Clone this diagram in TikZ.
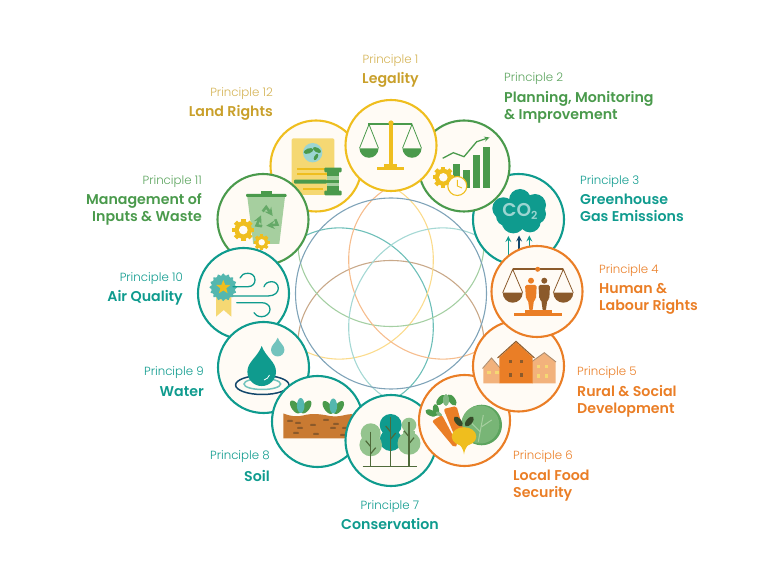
\documentclass[tikz,border=0pt]{standalone}
\usepackage{xcolor}
\usepackage{fontspec}
\usepackage{tikz}
\usetikzlibrary{shapes.geometric}
\newfontfamily\namefont{Poppins Light}
\newfontfamily\titlefont{Poppins SemiBold}
\definecolor{cream}{HTML}{FFFBF5}
\definecolor{pgold}{HTML}{EFBE1E}
\definecolor{pgoldtext}{HTML}{C9A02B}
\definecolor{pgoldpale}{HTML}{F5D873}
\definecolor{pgreen}{HTML}{4A9A4C}
\definecolor{pgreenpale}{HTML}{A6CF9F}
\definecolor{pteal}{HTML}{0F9B8E}
\definecolor{ptealpale}{HTML}{72C3BD}
\definecolor{porange}{HTML}{EA7E26}
\definecolor{porangepale}{HTML}{F2B27C}
\definecolor{pbrown}{HTML}{8B5A2B}
\definecolor{pnavy}{HTML}{12476B}
\definecolor{psoil}{HTML}{C97A32}
\definecolor{pbark}{HTML}{4F6A3A}
\definecolor{phub}{HTML}{7FA3B8}
% small repeating pictures: x, y, size
\newcommand\gearicon[3]{%
  \foreach \a in {0,45,...,135}{\fill[pgold, shift={(#1,#2)}, rotate=\a] (-0.25*#3,-1.25*#3) rectangle (0.25*#3,1.25*#3);}
  \fill[pgold] (#1,#2) circle [radius=#3];
  \fill[cream] (#1,#2) circle [radius=0.5*#3];}
\newcommand\panicon[6]{%
  \draw[#5, line width=0.8pt] (#1-#4,#3) -- (#1,#2) -- (#1+#4,#3);
  \fill[#6] (#1-#4,#3) arc [start angle=180, end angle=0, radius=#4] -- cycle;}
\newcommand\dropicon[4]{%
  \fill[#4] (#1,#2) .. controls (#1-0.3*#3,#2+0.8*#3) and (#1-#3,#2+1.1*#3) .. (#1-#3,#2+1.8*#3)
    arc [start angle=180, end angle=0, radius=#3]
    .. controls (#1+#3,#2+1.1*#3) and (#1+0.3*#3,#2+0.8*#3) .. (#1,#2) -- cycle;}
\newcommand\leaficon[5]{%
  \fill[#5, rotate around={#3:(#1,#2)}] (#1,#2) ellipse [x radius=#4, y radius=0.5*#4];}
\newcommand\sprouticon[2]{%
  \leaficon{#1-5.5}{#2+0.5}{-55}{7.5}{pgreen}
  \leaficon{#1+5.5}{#2+0.5}{55}{7.5}{pgreen}
  \leaficon{#1}{#2-1}{90}{7.5}{ptealpale!70!pteal}}
\newcommand\windowsicon[3]{%
  \fill[#3] (#1-1.7,#2-1.7) rectangle (#1+1.7,#2+1.7);}
\begin{document}
\begin{tikzpicture}[
  x=1pt, y=-1pt,
  ring/.style={circle, draw, line width=2.1pt, fill=cream, minimum size=91pt, inner sep=0},
  pname/.style={font=\namefont\fontsize{11.8}{14}\selectfont, inner sep=0, yshift=-1pt},
  ptitle/.style={font=\titlefont\fontsize{14.2}{17}\selectfont, inner sep=0, yshift=-1.5pt},
  arr/.style={->, >=stealth, line width=1.6pt},
  wind/.style={draw=pteal, line width=1.3pt, line cap=round}
]
\useasboundingbox (0,0) rectangle (780,585);

% Inner flower
\foreach \ang/\col in {180/C9A98A, 120/6DBFB8, 60/FBDB8C, 0/A5CFA3, -60/F6BD8E, -120/A5D8D4}{
  \definecolor{petal}{HTML}{\col}
  \draw[petal, line width=1.1pt, rotate around={\ang:(391,293.5)}] (391,243.5) ellipse [x radius=93, y radius=83];
}
\node[circle, draw=phub, line width=1.1pt, minimum size=191pt, inner sep=0] (hub) at (391,293.5) {};

% Principle 12
\node[ring, draw=pgold] (p12) at (316,166) {};
\fill[pgoldpale, rounded corners=1.5pt] (291.7,138.3) rectangle (334.3,195);
\fill[ptealpale!70!white] (312.7,152.7) circle [radius=9.7];
\leaficon{308.5}{151}{20}{5}{pgreen}
\leaficon{317}{150}{-30}{4.5}{pgreen}
\leaficon{316}{157}{60}{3.5}{pgreen}
\foreach \y in {169.3,174.3}{\fill[pgold] (296.7,\y-0.9) rectangle (326.7,\y+0.9);}
\fill[pgold] (303,187.8) rectangle (323,189.6);
\fill[pgreen, rounded corners=1pt] (294,179.7) rectangle (327,183.7);
\fill[pgreen] (326.7,172.3) rectangle (339.3,190.7);
\fill[pgreenpale] (326.7,176) rectangle (339.3,186.5);
\fill[pgreen] (326.7,179.7) rectangle (339.3,183);
\fill[pgreen, rounded corners=1pt] (324.3,167.7) rectangle (341.7,172.3);
\fill[pgreen, rounded corners=1pt] (324.3,190.7) rectangle (341.7,195.3);

% Principle 11
\node[ring, draw=pgreen] (p11) at (263,219.5) {};
\fill[pgreenpale] (247.3,196.7) -- (285,196.7) -- (279.3,244) -- (253.3,244) -- cycle;
\fill[pgreen] (260.7,191.3) rectangle (271.7,194.5);
\fill[pgreen, rounded corners=1pt] (246,194) rectangle (286.7,196.9);
\foreach \a in {0,120,240}{
  \draw[pgreen!85!white, ->, >=stealth, line width=2.6pt, shift={(266.7,219)}, rotate=\a] (-4,-7.5) -- (-0.5,-12) -- (6,-3);
}
\gearicon{243.3}{230}{8.8}
\gearicon{261.7}{242.3}{6.4}

% Principle 10
\node[ring, draw=pteal] (p10) at (243.5,293.5) {};
\fill[pgoldpale] (216,296) -- (231.3,296) -- (231.3,316.7) -- (223.7,310) -- (216,316.7) -- cycle;
\foreach \a in {0,22.5,...,337.5}{\fill[ptealpale!70!pteal, shift={(223.3,287.3)}, rotate=\a] (12.3,0) circle [radius=1.6];}
\fill[ptealpale!70!pteal] (223.3,287.3) circle [radius=12.3];
\node[star, star points=5, star point ratio=2.4, fill=pgold, minimum size=15pt, inner sep=0] (medal) at (223.3,287.3) {};
\draw[wind] (233,286.7) -- (248,286.7) .. controls (253,286.7) and (255,283) .. (255,280) .. controls (255,275) and (251,273.3) .. (248,273.3) .. controls (244,273.3) and (241,275) .. (240,278);
\draw[wind] (233.3,296) -- (268,296) .. controls (275,296) and (278.3,292) .. (278.3,288.3) .. controls (278.3,284) and (275,281.7) .. (271.7,281.7) .. controls (268,281.7) and (265,283.5) .. (264,286.7);
\draw[wind] (236.7,302.7) -- (261.7,302.7) .. controls (266,302.7) and (270,305) .. (270,309.3) .. controls (270,313.5) and (266,316.7) .. (261.7,316.7) .. controls (258,316.7) and (255,315) .. (254,312.7);

% Principle 9
\node[ring, draw=pteal] (p9) at (263.5,367.5) {};
\draw[pnavy, line width=1.5pt] (262.3,385) ellipse [x radius=26.7, y radius=9.5];
\draw[ptealpale, line width=1.5pt] (262.3,384) ellipse [x radius=18.3, y radius=5.5];
\dropicon{261.7}{346}{14.3}{pteal}
\draw[white, line width=0.8pt] (269.5,375) arc [start angle=20, end angle=75, radius=8];
\dropicon{277.7}{337.7}{6.7}{ptealpale}

% Principle 8
\node[ring, draw=pteal] (p8) at (317.5,421.5) {};
\fill[psoil] (283.3,413.5) .. controls (292,416.5) and (296,417) .. (303,415.5) .. controls (312,413) and (320,414) .. (330,416) .. controls (340,417.5) and (346,414) .. (352,414) -- (352,438.3) -- (283.3,438.3) -- cycle;
\foreach \x/\y in {290/421,298/423,300/428,296/433,313/425,316/434,326/420,333/428,336/424,345/428,343/435}{
  \fill[pbrown, rounded corners=0.8pt] (\x-3,\y-1) rectangle (\x+3,\y+1);}
\sprouticon{300.7}{406.5}
\sprouticon{333.3}{407}

% Principle 7
\node[ring, draw=pteal] (p7) at (391,440.5) {};
\fill[pteal] (390.7,425) circle [radius=11];
\fill[pteal] (390.7,440) circle [radius=11];
\fill[pgreenpale!80!pgreen] (370.7,433.3) circle [radius=10];
\fill[pgreenpale!80!pgreen] (370.7,445) circle [radius=11.3];
\fill[pgreenpale!80!pgreen] (409,425) circle [radius=7.3];
\fill[pgreenpale!80!pgreen] (409,443.3) circle [radius=11.5];
\fill[pgreenpale!80!pgreen] (403,431) rectangle (415,440);
\draw[pbark, line width=1.5pt] (362.7,466.7) -- (417.3,466.7);
\foreach \x/\t in {370.7/431.7,390.7/417,409/421.7}{
  \draw[pbark, line width=1.4pt] (\x,\t) -- (\x,466.7);
  \draw[pbark, line width=1.2pt] (\x,\t+15) -- (\x-5,\t+9);
  \draw[pbark, line width=1.2pt] (\x,\t+22) -- (\x+5,\t+16);
}

% Principle 6
\node[ring, draw=porange] (p6) at (464.5,420.5) {};
\fill[pgreen!90!white] (481.7,425) circle [radius=20.3];
\fill[pgreenpale!50!pgreen] (480.3,424.5) circle [radius=19];
\draw[pgreenpale, line width=1pt] (478.3,441.7) -- (483.3,415);
\draw[pgreenpale, line width=1pt] (480,431.7) -- (471.7,423.3);
\draw[pgreenpale, line width=1pt] (481.7,426.7) -- (491.7,420);
\leaficon{431}{413}{-25}{6}{pgreen}
\leaficon{436}{410}{-80}{6}{pgreen}
\leaficon{439}{414}{-35}{3.5}{pgreen!70!white}
\leaficon{441}{400}{50}{6.5}{pgreen}
\leaficon{452}{400}{-55}{6.5}{pgreen}
\leaficon{446}{400}{90}{6}{pgreen!70!white}
\fill[porange, rounded corners=2pt] (432,421) -- (442,415) -- (458,445) -- (454,447.5) -- cycle;
\fill[porange, rounded corners=2pt] (443.5,409) -- (456.5,406) -- (467,442) -- (457,442) -- cycle;
\leaficon{458.3}{421.5}{-50}{6}{pbark!70!black}
\leaficon{469.3}{421.5}{50}{6}{pbark!70!black}
\fill[pgold] (464,436.5) ellipse [x radius=12.3, y radius=9.3];
\fill[pgold] (456,442) .. controls (460,445) and (463,447) .. (464,454.5) .. controls (465,447) and (468,445) .. (472,442) -- cycle;

% Principle 5
\node[ring, draw=porange] (p5) at (518.5,366) {};
\fill[porangepale] (483.3,368.3) -- (491.5,358.5) -- (499.5,368.3) -- (499.5,383.3) -- (483.3,383.3) -- cycle;
\draw[pbrown!70!white, line width=0.9pt] (482.5,368.5) -- (491.5,358) -- (500,368);
\fill[porangepale] (532,362) -- (544.3,353) -- (555.5,362) -- (555.5,383.3) -- (532,383.3) -- cycle;
\draw[pbrown!70!white, line width=0.9pt] (532,361.5) -- (544.3,352.7) -- (556,362);
\fill[porange] (499.3,357.3) -- (516,342) -- (532.7,357.3) -- (532.7,383.3) -- (499.3,383.3) -- cycle;
\draw[pbrown, line width=1pt] (497.5,358) -- (516,341.3) -- (534.5,358);
\foreach \x/\y in {510.7/361.7,521.7/361.7,510.7/375,521.7/375}{\windowsicon{\x}{\y}{pbrown}}
\foreach \x/\y in {489/372.3,497/372.3,538.3/366.7,546.7/366.7,538.3/376,546.7/376}{\windowsicon{\x}{\y}{pgoldpale}}

% Principle 3
\node[ring, draw=pteal] (p3) at (518.5,219.5) {};
\foreach \x/\y/\r in {520/200/11,503.3/208.3/11,535/205/11,513.3/221.7/11.7,530/221.7/10.7,520/213.3/15,506/216/10,536/214/10}{
  \fill[pteal] (\x,\y) circle [radius=\r];}
\node[inner sep=0, text=ptealpale!70!white, font=\titlefont\fontsize{18.5}{18}\selectfont] (co2) at (520,211.5) {CO\raisebox{-3pt}{\fontsize{11}{11}\selectfont 2}};
\draw[arr, pteal] (508.3,255) -- (508.3,236);
\draw[arr, pnavy] (519,255) -- (519,235.5);
\draw[arr, pteal] (529.3,255) -- (529.3,235.5);

% Principle 4
\node[ring, draw=porange] (p4) at (537,291.5) {};
\panicon{512.7}{269.3}{292.7}{10}{pbrown}{pbrown}
\panicon{563.3}{269.3}{292.7}{10}{pbrown}{pbrown}
\fill[pbrown] (512.7,268.5) rectangle (563.3,270.3);
\fill[porange] (537.7,269.3) circle [radius=2.5];
\fill[porange] (531,280.7) circle [radius=3];
\fill[porange, rounded corners=1.5pt] (525,285) -- (536.7,285) -- (536,299) -- (534,300) -- (532.5,311) -- (529.5,311) -- (528,300) -- (526,299) -- cycle;
\fill[pbrown] (544.3,280.7) circle [radius=3];
\fill[pbrown, rounded corners=1.5pt] (538.5,285) -- (550,285) -- (549.3,299) -- (547.3,300) -- (545.8,311) -- (542.8,311) -- (541.3,300) -- (539.3,299) -- cycle;
\fill[porange] (525,310.5) rectangle (551.7,314);
\fill[porange] (514,313.3) rectangle (561.7,316);

% Principle 2
\node[ring, draw=pgreen] (p2) at (464,166) {};
\foreach \x/\t in {453.3/164,463.3/170,473.3/155,483.3/147.3}{\fill[pgreen] (\x,\t) rectangle (\x+6.7,188.3);}
\draw[arr, pgreen, line width=1.3pt] (442.7,158.3) -- (453.3,152.7) -- (464,156.7) -- (476.7,141.7) -- (489.5,137.5);
\gearicon{443.3}{177.3}{8.5}
\node[circle, draw=pgold, fill=cream, line width=1.1pt, minimum size=19pt, inner sep=0] (clock) at (457.3,186) {};
\draw[pgold, line width=0.9pt] (457.3,180) -- (457.3,186) -- (462,188);

% Principle 1
\node[ring, draw=pgold] (p1) at (391,145.5) {};
\panicon{369}{124.3}{148.3}{9.5}{pgreen}{pgreen}
\panicon{412}{124.3}{148.3}{9.5}{pgreen}{pgreen}
\fill[pgreen] (368.3,123.3) rectangle (411.7,125.3);
\fill[pgold] (388.7,124) rectangle (393.2,166);
\fill[pgold] (391,123) circle [radius=2.6];
\fill[pgold] (384,164) rectangle (397,167.5);
\fill[pgold] (376.7,166.7) rectangle (404.3,170);

% Labels
\node[pname, text=pgoldtext!80!white] (name1) at (390.5,59.5) {Principle 1};
\node[ptitle, text=pgoldtext] (title1) at (390.5,78) {Legality};
\node[pname, anchor=west, text=pgreen!90!white] (name2) at (504,78) {Principle 2};
\node[ptitle, anchor=north west, align=left, text=pgreen] (title2) at (504,90) {Planning, Monitoring\\\& Improvement};
\node[pname, anchor=west, text=pteal] (name3) at (580,180.5) {Principle 3};
\node[ptitle, anchor=north west, align=left, text=pteal] (title3) at (580,192) {Greenhouse\\Gas Emissions};
\node[pname, anchor=west, text=porange] (name4) at (599,269.5) {Principle 4};
\node[ptitle, anchor=north west, align=left, text=porange] (title4) at (599,282) {Human \&\\Labour Rights};
\node[pname, anchor=west, text=porange] (name5) at (577,372) {Principle 5};
\node[ptitle, anchor=north west, align=left, text=porange] (title5) at (577,384) {Rural \& Social\\Development};
\node[pname, anchor=west, text=porange] (name6) at (513,456) {Principle 6};
\node[ptitle, anchor=north west, align=left, text=porange] (title6) at (513,468) {Local Food\\Security};
\node[pname, text=pteal] (name7) at (390,505.5) {Principle 7};
\node[ptitle, text=pteal] (title7) at (390,522.5) {Conservation};
\node[pname, anchor=east, text=pteal] (name8) at (270,456) {Principle 8};
\node[ptitle, anchor=east, text=pteal] (title8) at (270,474.5) {Soil};
\node[pname, anchor=east, text=pteal] (name9) at (204,372) {Principle 9};
\node[ptitle, anchor=east, text=pteal] (title9) at (204,390) {Water};
\node[pname, anchor=east, text=pteal] (name10) at (183,278) {Principle 10};
\node[ptitle, anchor=east, text=pteal] (title10) at (183,296.5) {Air Quality};
\node[pname, anchor=east, text=pgreen!90!white] (name11) at (202,180.5) {Principle 11};
\node[ptitle, anchor=north east, align=right, text=pgreen] (title11) at (202,192) {Management of\\Inputs \& Waste};
\node[pname, anchor=east, text=pgoldtext!80!white] (name12) at (273,92.5) {Principle 12};
\node[ptitle, anchor=east, text=pgoldtext] (title12) at (273,111.5) {Land Rights};
\end{tikzpicture}
\end{document}
